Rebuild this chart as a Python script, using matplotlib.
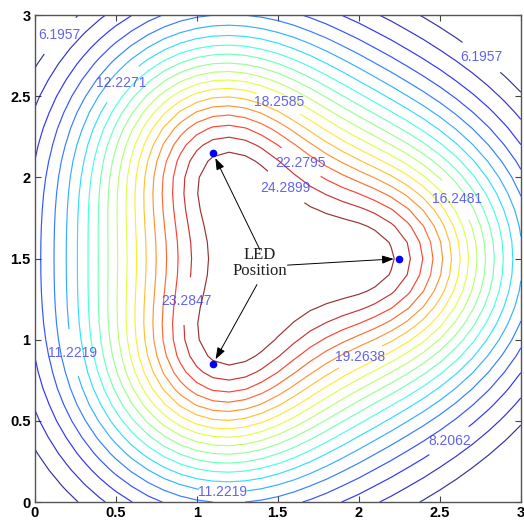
import numpy as np
import matplotlib
matplotlib.use('Agg')
import matplotlib.pyplot as plt

# LED positions (m)
led_x = [1.1, 2.25, 1.1]
led_y = [2.15, 1.5, 0.85]

# contour levels as labelled in the picture
levels = [6.1957, 7.2009, 8.2062, 9.2114, 10.2167, 11.2219, 12.2271, 13.2323,
          14.2376, 15.2428, 16.2481, 17.2533, 18.2585, 19.2638, 20.2690,
          21.2742, 22.2795, 23.2847, 24.2899]

# which levels carry a label, and where
label_levels = [6.1957, 6.1957, 12.2271, 18.2585, 22.2795, 24.2899, 16.2481,
                23.2847, 19.2638, 11.2219, 11.2219, 8.2062]
label_x = [0.145, 2.777, 0.558, 1.526, 1.645, 1.56, 2.598, 0.977, 2.013, 0.262, 1.162, 2.567]
label_y = [2.883, 2.766, 2.563, 2.495, 2.095, 1.95, 1.861, 1.232, 0.887, 0.924, 0.068, 0.364]

# illuminance model of the three LEDs (fitted to the labelled contours)
source_height = 1.04
falloff = 1.6
intensity = 19.06
grid_step = 0.1   # coarse room grid, gives the kinked lines


def illuminance(x, y):
    e = np.zeros_like(x)
    for lx, ly in zip(led_x, led_y):
        e += intensity / (source_height ** 2 + (x - lx) ** 2 + (y - ly) ** 2) ** falloff
    return e


def main():
    plt.rcParams['font.family'] = ['Liberation Sans', 'DejaVu Sans']

    g = np.arange(0, 3 + grid_step / 2, grid_step)
    X, Y = np.meshgrid(g, g)
    Z = illuminance(X, Y)

    fig = plt.figure(figsize=(5.24, 5.23), dpi=100)
    ax = fig.add_axes([0.066, 0.040, 0.928, 0.931])
    ax.set_xlim(0, 3)
    ax.set_ylim(0, 3)

    cs = ax.contour(X, Y, Z, levels=levels, cmap='jet',
                    vmin=levels[0], vmax=levels[-1], linewidths=0.85, alpha=0.8)

    # set up label style, then put each label on its own level
    ax.clabel(cs, manual=[], fmt='%.4f', inline=True, inline_spacing=3,
              fontsize=10, colors=['#3c3cea'])
    for lev, x, y in zip(label_levels, label_x, label_y):
        idx = int(np.argmin(np.abs(np.asarray(cs.levels) - lev)))
        cs.labelIndiceList = [idx]
        cs.add_label_near(x, y, inline=True, inline_spacing=3)
    for t in cs.labelTexts:
        t.set_rotation(0)

    ax.plot(led_x, led_y, 'o', color='#0000ff', markersize=4.5, zorder=5)

    # "LED Position" annotation with three arrows
    ax.text(1.39, 1.475, 'LED\nPosition', ha='center', va='center',
            family='Liberation Serif', fontsize=12, linespacing=1.0, color='#202020')
    starts = [(1.39, 1.555), (1.56, 1.46), (1.372, 1.34)]
    for (sx, sy), lx, ly in zip(starts, led_x, led_y):
        ax.annotate('', xy=(lx, ly), xytext=(sx, sy),
                    arrowprops=dict(arrowstyle='-|>,head_length=0.7,head_width=0.25',
                                    color='black', lw=0.7, shrinkA=0, shrinkB=4))

    ax.set_xticks([0, 0.5, 1, 1.5, 2, 2.5, 3])
    ax.set_yticks([0, 0.5, 1, 1.5, 2, 2.5, 3])
    ax.set_xticklabels(['0', '0.5', '1', '1.5', '2', '2.5', '3'])
    ax.set_yticklabels(['0', '0.5', '1', '1.5', '2', '2.5', '3'])
    ax.tick_params(direction='in', top=True, right=True, length=4, width=0.8,
                   color='#444444', labelsize=10.5, pad=3)
    for lab in ax.get_xticklabels() + ax.get_yticklabels():
        lab.set_fontweight('bold')
    for s in ax.spines.values():
        s.set_color('#555555')
        s.set_linewidth(1.0)

    fig.savefig('out.png', dpi=100)


if __name__ == '__main__':
    main()
